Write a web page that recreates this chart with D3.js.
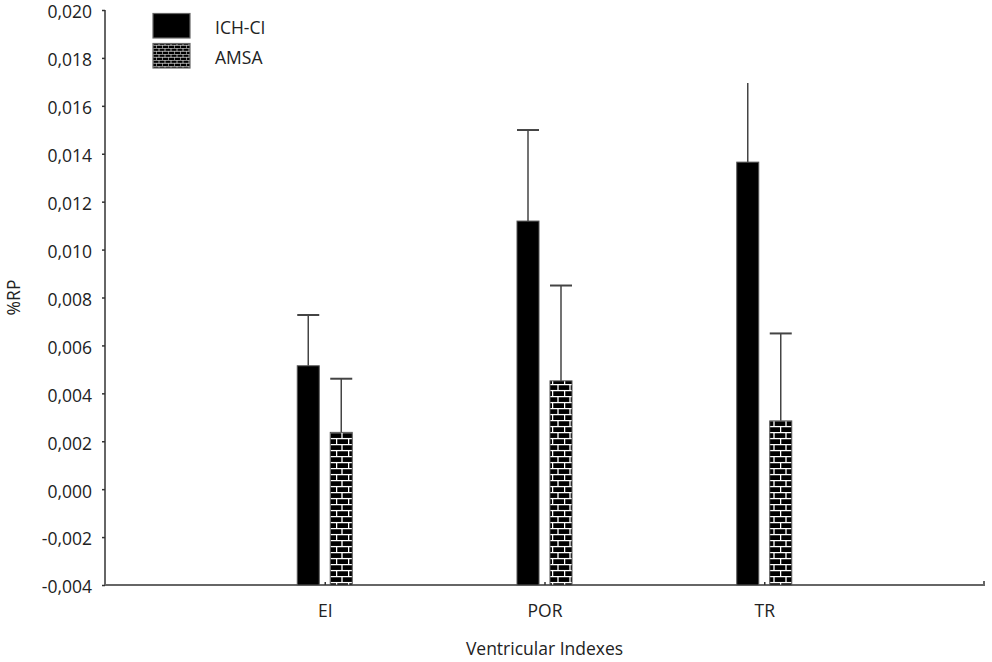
<!DOCTYPE html>
<html>
<head>
<meta charset="utf-8">
<script src="https://cdn.jsdelivr.net/npm/d3@7"></script>
<style>
  body { margin: 0; background: #fff; }
  text { font-family: "Open Sans", sans-serif; fill: #222; }
</style>
</head>
<body>
<script>
// chart values
var categories = ["EI", "POR", "TR"];
var seriesNames = ["ICH-CI", "AMSA"];
var ichValues = [0.00515, 0.01119, 0.01365];
var ichErrors = [0.00212, 0.00380, 0.00330];
var amsaValues = [0.00237, 0.00452, 0.00285];
var amsaErrors = [0.00224, 0.00398, 0.00365];
var ichCaps = [true, true, false];   // TR error bar has no cap in the figure
var amsaCaps = [true, true, true];
var yTicks = [-0.004, -0.002, 0, 0.002, 0.004, 0.006, 0.008, 0.010, 0.012, 0.014, 0.016, 0.018, 0.020];

window.onload = drawChart();

function drawChart(){
    var w = 992, h = 662;
    var margin = {top: 10, right: 8, bottom: 77, left: 105};

    var svg = d3.select("body")
        .append("svg")
        .attr("width", w)
        .attr("height", h);

    // brick pattern for AMSA bars
    var defs = svg.append("defs");
    function brick(id, s){
        var p = defs.append("pattern")
            .attr("id", id)
            .attr("patternUnits", "userSpaceOnUse")
            .attr("width", 12 * s)
            .attr("height", 12 * s);
        p.append("rect").attr("width", 12 * s).attr("height", 12 * s).attr("fill", "#000");
        var lines = [[0, 0.6, 12, 0.6], [0, 6.6, 12, 6.6], [6, 0.6, 6, 6.6], [0.6, 6.6, 0.6, 12.6]];
        lines.forEach(function(l){
            p.append("line")
                .attr("x1", l[0] * s).attr("y1", l[1] * s)
                .attr("x2", l[2] * s).attr("y2", l[3] * s)
                .attr("stroke", "#fff")
                .attr("stroke-width", 1.3 * s);
        });
    }
    brick("bricks", 1);
    brick("bricksSmall", 0.5);

    var x = d3.scalePoint()
        .domain(categories)
        .range([margin.left, w - margin.right])
        .padding(1);

    var xSub = d3.scaleBand()
        .domain(seriesNames)
        .range([-27.5, 27.5])
        .paddingInner(0.333);

    var y = d3.scaleLinear()
        .domain([-0.004, 0.020])
        .range([h - margin.bottom, margin.top]);

    var fmt = function(d){ return d3.format(".3f")(d).replace(".", ",").replace("−", "-"); };

    // y axis
    var yAxis = svg.append("g")
        .attr("transform", "translate(" + margin.left + ",0)")
        .call(d3.axisLeft(y).tickValues(yTicks).tickFormat(fmt).tickSize(3).tickPadding(10));
    yAxis.select(".domain").attr("stroke", "#666").attr("stroke-width", 2).attr("d",
        "M0," + y(0.020) + "V" + y(-0.004));
    yAxis.selectAll(".tick line").attr("stroke", "#333").attr("stroke-width", 1.5);
    yAxis.selectAll(".tick text").style("font-size", "17.5px").attr("fill", "#222").attr("dy", "0.45em");

    // x axis
    var xAxis = svg.append("g")
        .attr("transform", "translate(0," + y(-0.004) + ")")
        .call(d3.axisBottom(x).tickSize(-3).tickPadding(20));
    xAxis.select(".domain").attr("stroke", "#666").attr("stroke-width", 2)
        .attr("d", "M" + margin.left + ",0H" + (w - margin.right) + "V-4");
    xAxis.selectAll(".tick line").attr("stroke", "#333").attr("stroke-width", 1.5);
    xAxis.selectAll(".tick text").style("font-size", "17.5px").attr("fill", "#222");

    var rows = categories.map(function(c, i){
        return [
            {cat: c, s: "ICH-CI", v: ichValues[i], e: ichErrors[i], cap: ichCaps[i]},
            {cat: c, s: "AMSA", v: amsaValues[i], e: amsaErrors[i], cap: amsaCaps[i]}
        ];
    });
    var flat = [].concat.apply([], rows);

    // error bars (drawn behind bars)
    var errG = svg.append("g");
    errG.selectAll(".err")
        .data(flat)
        .enter()
        .append("line")
        .attr("x1", function(d){ return x(d.cat) + xSub(d.s) + xSub.bandwidth() / 2; })
        .attr("x2", function(d){ return x(d.cat) + xSub(d.s) + xSub.bandwidth() / 2; })
        .attr("y1", function(d){ return y(d.v); })
        .attr("y2", function(d){ return y(d.v + d.e); })
        .attr("stroke", "#444")
        .attr("stroke-width", 1.5);
    errG.selectAll(".cap")
        .data(flat.filter(function(d){ return d.cap; }))
        .enter()
        .append("line")
        .attr("x1", function(d){ return x(d.cat) + xSub(d.s); })
        .attr("x2", function(d){ return x(d.cat) + xSub(d.s) + xSub.bandwidth(); })
        .attr("y1", function(d){ return y(d.v + d.e); })
        .attr("y2", function(d){ return y(d.v + d.e); })
        .attr("stroke", "#444")
        .attr("stroke-width", 2);

    // bars
    svg.append("g").selectAll("rect")
        .data(flat)
        .enter()
        .append("rect")
        .attr("x", function(d){ return x(d.cat) + xSub(d.s); })
        .attr("y", function(d){ return y(d.v); })
        .attr("width", xSub.bandwidth())
        .attr("height", function(d){ return y(-0.004) - y(d.v); })
        .attr("fill", function(d){ return d.s === "ICH-CI" ? "#000" : "url(#bricks)"; })
        .attr("stroke", "#555")
        .attr("stroke-width", 1);

    // legend
    var legend = svg.append("g");
    seriesNames.forEach(function(s, i){
        legend.append("rect")
            .attr("x", 153)
            .attr("y", 13.5 + i * 30)
            .attr("width", 37)
            .attr("height", 24.5)
            .attr("fill", i === 0 ? "#000" : "url(#bricksSmall)")
            .attr("stroke", "#666")
            .attr("stroke-width", 1.2);
        legend.append("text")
            .attr("x", 215)
            .attr("y", 28 + i * 30)
            .attr("dy", "0.35em")
            .style("font-size", "17.5px")
            .text(s);
    });

    // axis titles
    svg.append("text")
        .attr("transform", "translate(14," + y(0.008) + ") rotate(-90)")
        .attr("text-anchor", "middle")
        .attr("dy", "0.35em")
        .style("font-size", "17.5px")
        .text("%RP");

    svg.append("text")
        .attr("x", x("POR"))
        .attr("y", 649)
        .attr("text-anchor", "middle")
        .attr("dy", "0.35em")
        .style("font-size", "17.5px")
        .text("Ventricular Indexes");
}
</script>
</body>
</html>
